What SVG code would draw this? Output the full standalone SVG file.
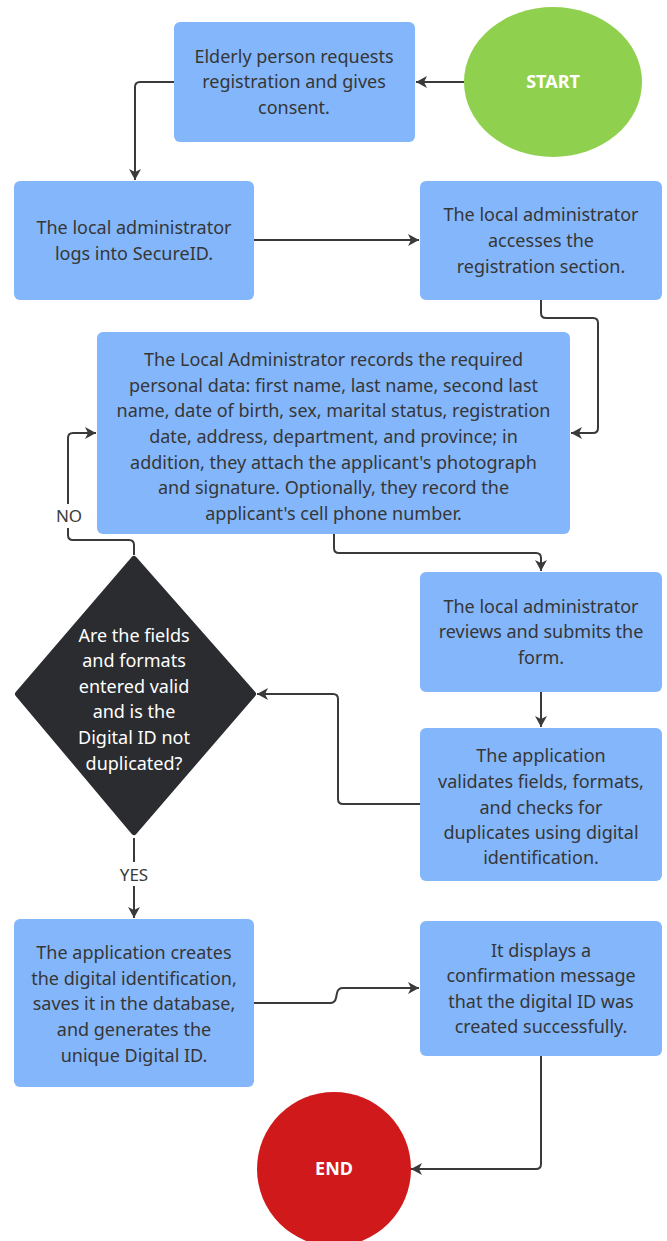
<svg xmlns="http://www.w3.org/2000/svg" width="667" height="1241" viewBox="0 0 667 1241">
<defs>
<marker id="arr" markerUnits="userSpaceOnUse" markerWidth="14" markerHeight="14" refX="12" refY="7" orient="auto">
<path d="M1,1 L12,7 L1,13 L4,7 z" fill="#3a3a3a"/>
</marker>
<style>
.box{fill:#84b6fb;}
.t{font-family:"Noto Sans","Open Sans",sans-serif;font-size:18px;fill:#363636;text-anchor:middle;}
.w{font-family:"Noto Sans","Open Sans",sans-serif;font-size:18px;fill:#ffffff;text-anchor:middle;}
.b{font-family:"Noto Sans","Open Sans",sans-serif;font-size:18px;font-weight:bold;fill:#ffffff;text-anchor:middle;}
.c{fill:none;stroke:#3a3a3a;stroke-width:2;marker-end:url(#arr);}
.lbl{font-family:"Noto Sans","Open Sans",sans-serif;font-size:17px;fill:#3a3a3a;text-anchor:middle;}
</style>
</defs>
<rect width="667" height="1241" fill="#ffffff"/>

<g id="connectors">
<path class="c" d="M464,82 L416,82"/>
<path class="c" d="M174,82 L140,82 Q135,82 135,87 L135,180"/>
<path class="c" d="M254,240 L419,240"/>
<path class="c" d="M541,300 L541,313 Q541,318 546,318 L593,318 Q598,318 598,323 L598,428 Q598,433 593,433 L571,433"/>
<path class="c" d="M334,534 L334,548 Q334,553 339,553 L536,553 Q541,553 541,558 L541,571"/>
<path class="c" d="M541,691 L541,727"/>
<path class="c" d="M420,804 L343,804 Q338,804 338,799 L338,699 Q338,694 333,694 L257,694"/>
<path class="c" d="M134,555 L134,545 Q134,540 129,540 L73,540 Q68,540 68,535 L68,438 Q68,433 73,433 L96,433"/>
<path class="c" d="M134,838 L134,918"/>
<path class="c" d="M254,1003 L330,1003 Q335,1003 336,998 L337,993 Q338,988 343,988 L419,988"/>
<path class="c" d="M541,1056 L541,1164 Q541,1169 536,1169 L411,1169"/>
<rect x="52" y="504" width="34" height="24" fill="#ffffff"/>
<text class="lbl" x="69" y="522">NO</text>
<rect x="114" y="862" width="40" height="24" fill="#ffffff"/>
<text class="lbl" x="134" y="881">YES</text>
</g>

<g id="start">
<ellipse cx="553" cy="82" rx="89" ry="75" fill="#8fd14f"/>
<text class="b" x="553" y="88">START</text>
</g>

<g id="n1">
<rect class="box" x="174" y="22" width="241" height="120" rx="6"/>
<text class="t" x="294" y="63">Elderly person requests</text>
<text class="t" x="294" y="88">registration and gives</text>
<text class="t" x="294" y="114">consent.</text>
</g>

<g id="n2">
<rect class="box" x="14" y="181" width="240" height="119" rx="6"/>
<text class="t" x="134" y="234">The local administrator</text>
<text class="t" x="134" y="260">logs into SecureID.</text>
</g>

<g id="n3">
<rect class="box" x="420" y="181" width="242" height="119" rx="6"/>
<text class="t" x="541" y="221">The local administrator</text>
<text class="t" x="541" y="247">accesses the</text>
<text class="t" x="541" y="273">registration section.</text>
</g>

<g id="n4">
<rect class="box" x="97" y="332" width="473" height="202" rx="6"/>
<text class="t" x="333.5" y="366">The Local Administrator records the required</text>
<text class="t" x="333.5" y="392">personal data: first name, last name, second last</text>
<text class="t" x="333.5" y="417">name, date of birth, sex, marital status, registration</text>
<text class="t" x="333.5" y="443">date, address, department, and province; in</text>
<text class="t" x="333.5" y="469">addition, they attach the applicant's photograph</text>
<text class="t" x="333.5" y="494">and signature. Optionally, they record the</text>
<text class="t" x="333.5" y="520">applicant's cell phone number.</text>
</g>

<g id="n5">
<rect class="box" x="420" y="572" width="242" height="120" rx="6"/>
<text class="t" x="541" y="613">The local administrator</text>
<text class="t" x="541" y="638">reviews and submits the</text>
<text class="t" x="541" y="664">form.</text>
</g>

<g id="n6">
<rect class="box" x="420" y="728" width="242" height="153" rx="6"/>
<text class="t" x="541" y="762">The application</text>
<text class="t" x="541" y="788">validates fields, formats,</text>
<text class="t" x="541" y="814">and checks for</text>
<text class="t" x="541" y="839">duplicates using digital</text>
<text class="t" x="541" y="864">identification.</text>
</g>

<g id="decision">
<polygon points="134,559 253,694 134,832 18,694" fill="#2b2c30" stroke="#2b2c30" stroke-width="6" stroke-linejoin="round"/>
<text class="w" x="134" y="642">Are the fields</text>
<text class="w" x="134" y="667">and formats</text>
<text class="w" x="134" y="693">entered valid</text>
<text class="w" x="134" y="718">and is the</text>
<text class="w" x="134" y="744">Digital ID not</text>
<text class="w" x="134" y="770">duplicated?</text>
</g>

<g id="n7">
<rect class="box" x="14" y="919" width="240" height="168" rx="6"/>
<text class="t" x="134" y="959">The application creates</text>
<text class="t" x="134" y="985">the digital identification,</text>
<text class="t" x="134" y="1010">saves it in the database,</text>
<text class="t" x="134" y="1036">and generates the</text>
<text class="t" x="134" y="1062">unique Digital ID.</text>
</g>

<g id="n8">
<rect class="box" x="420" y="921" width="242" height="135" rx="6"/>
<text class="t" x="541" y="957">It displays a</text>
<text class="t" x="541" y="982">confirmation message</text>
<text class="t" x="541" y="1008">that the digital ID was</text>
<text class="t" x="541" y="1033">created successfully.</text>
</g>

<g id="end">
<ellipse cx="334" cy="1169" rx="77" ry="77" fill="#d0191b"/>
<text class="b" x="334" y="1175">END</text>
</g>
</svg>
